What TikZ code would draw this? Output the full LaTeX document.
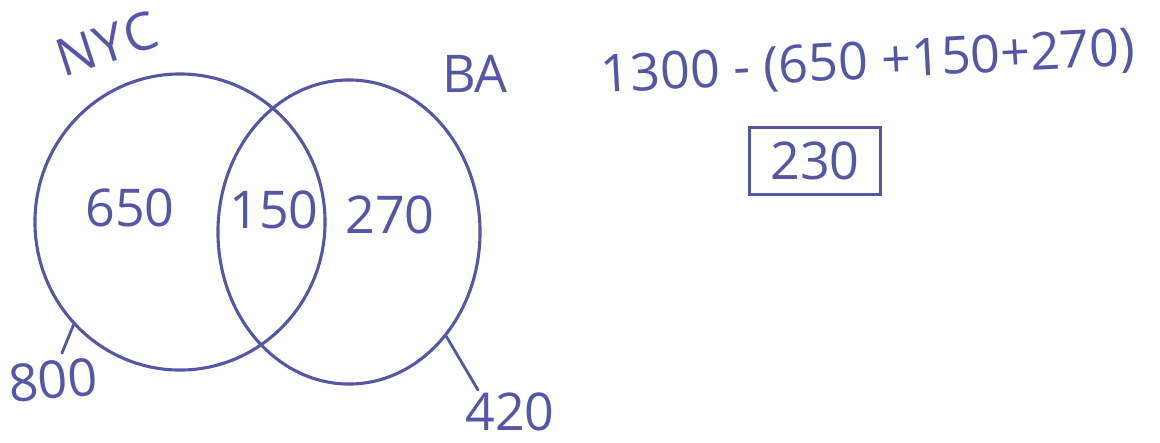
\documentclass[tikz,border=0pt]{standalone}
\usepackage{fontspec}
\setmainfont{Open Sans}
\usetikzlibrary{shapes.geometric, positioning}
\definecolor{ink}{HTML}{5656A8}
\tikzset{
    setring/.style={ellipse, draw=ink, line width=2.2pt, inner sep=0pt},
    hand/.style={text=ink, font=\fontsize{37}{44}\selectfont, inner sep=0pt},
    tick/.style={draw=ink, line width=2pt, line cap=round}
}

\begin{document}
\begin{tikzpicture}[x=0.025cm, y=-0.025cm]
        \useasboundingbox (0,0) rectangle (1160,442);
        % the two sets
        \node (nyc) [setring, minimum width=7.25cm, minimum height=7.4cm] at (180,222) {};
        \node (ba) [setring, minimum width=6.55cm, minimum height=7.6cm] at (349,232) {};

        \node (nycLabel) [hand, rotate=18] at (107,44) {N\kern1pt Y\kern1pt C};
        \node (baLabel) [hand] at (475,74) {BA};

        \node (onlyNyc) [hand] at (130,208) {650};
        \node (both) [hand] at (274,210) {150};
        \node (onlyBa) [hand] at (390,215) {270};

        % set totals
        \coordinate (tickNyc) at (62,353);
        \coordinate (tickBa) at (478,390);
        \draw [tick] (nyc.224) -- (tickNyc);
        \draw [tick] (ba.313) -- (tickBa);
        \node (totalNyc) [hand, rotate=5] at (53,380) {800};
        \node (totalBa) [hand] at (510,412) {420};

        % working
        \node (sum) [hand, rotate=3] at (868,64) {1300 - (650 +150+270)};
        \node (answer) [hand, draw=ink, line width=2pt, inner xsep=15pt, inner ysep=10pt] at (815,161) {230};
    \end{tikzpicture}
\end{document}
